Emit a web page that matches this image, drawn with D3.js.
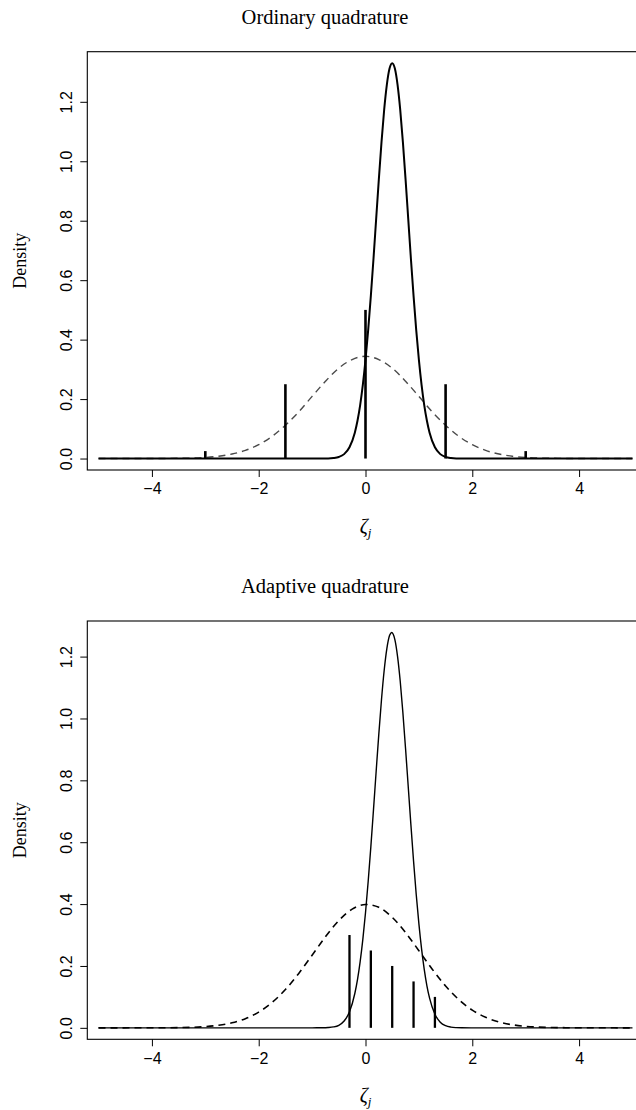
<!DOCTYPE html>
<html>
<head>
<meta charset="utf-8">
<script src="https://cdn.jsdelivr.net/npm/d3@7"></script>
<style>
  body { margin: 0; background: #fff; }
  svg { display: block; }
</style>
</head>
<body>
<script>
  // values
  const xTicks = [-4, -2, 0, 2, 4];
  const yTicks = [0, 0.2, 0.4, 0.6, 0.8, 1.0, 1.2];
  const yTickLabels = ['0.0', '0.2', '0.4', '0.6', '0.8', '1.0', '1.2'];

  // ordinary quadrature
  const ordSolidX = [-5, -1, -0.7, -0.6, -0.5, -0.4, -0.3, -0.2, -0.15, -0.1, -0.05, 0, 0.05, 0.1, 0.15, 0.2, 0.25, 0.3, 0.35, 0.4, 0.45, 0.5,
    0.55, 0.6, 0.65, 0.7, 0.75, 0.8, 0.85, 0.9, 0.95, 1.0, 1.05, 1.1, 1.15, 1.2, 1.3, 1.4, 1.5, 1.6, 1.7, 2, 5];
  const ordSolidY = [0, 0, 0.0004, 0.0016, 0.0051, 0.0148, 0.038, 0.087, 0.127, 0.180, 0.248, 0.332, 0.432, 0.547, 0.673, 0.807, 0.940, 1.065, 1.174, 1.258, 1.312, 1.33,
    1.312, 1.258, 1.174, 1.065, 0.940, 0.807, 0.673, 0.547, 0.432, 0.332, 0.248, 0.180, 0.127, 0.087, 0.038, 0.0148, 0.0051, 0.0016, 0.0004, 0, 0];
  const ordDashX = [-5, -4, -3.5, -3, -2.75, -2.5, -2.25, -2, -1.75, -1.5, -1.25, -1, -0.75, -0.5, -0.25, 0,
    0.25, 0.5, 0.75, 1, 1.25, 1.5, 1.75, 2, 2.25, 2.5, 2.75, 3, 3.5, 4, 5];
  const ordDashY = [0, 0.0001, 0.0008, 0.0038, 0.0078, 0.0151, 0.0274, 0.0466, 0.0744, 0.112, 0.157, 0.209, 0.260, 0.304, 0.333, 0.344,
    0.333, 0.304, 0.260, 0.209, 0.157, 0.112, 0.0744, 0.0466, 0.0274, 0.0151, 0.0078, 0.0038, 0.0008, 0.0001, 0];
  const ordNodes = [-3, -1.5, 0, 1.5, 3];
  const ordWeights = [0.025, 0.25, 0.5, 0.25, 0.025];

  // adaptive quadrature
  const adaSolidX = [-5, -1, -0.8, -0.7, -0.6, -0.5, -0.4, -0.3, -0.2, -0.15, -0.1, -0.05, 0, 0.05, 0.1, 0.15, 0.2, 0.25, 0.3, 0.35, 0.4, 0.45, 0.49,
    0.55, 0.6, 0.65, 0.7, 0.75, 0.8, 0.85, 0.9, 0.95, 1.0, 1.05, 1.1, 1.15, 1.2, 1.3, 1.4, 1.5, 1.6, 1.7, 1.8, 2, 5];
  const adaSolidY = [0, 0, 0.0002, 0.0009, 0.0029, 0.0083, 0.0219, 0.0518, 0.111, 0.156, 0.214, 0.286, 0.372, 0.473, 0.585, 0.706, 0.830, 0.951, 1.062, 1.156, 1.226, 1.268, 1.278,
    1.255, 1.201, 1.121, 1.019, 0.903, 0.780, 0.657, 0.539, 0.431, 0.336, 0.255, 0.189, 0.136, 0.096, 0.044, 0.0182, 0.0068, 0.0023, 0.0007, 0.0002, 0, 0];
  const adaDashX = [-5, -4, -3.5, -3, -2.75, -2.5, -2.25, -2, -1.75, -1.5, -1.25, -1, -0.75, -0.5, -0.25, 0,
    0.25, 0.5, 0.75, 1, 1.25, 1.5, 1.75, 2, 2.25, 2.5, 2.75, 3, 3.5, 4, 5];
  const adaDashY = [0, 0.0001, 0.0008, 0.0040, 0.0084, 0.0163, 0.0296, 0.0508, 0.0818, 0.1238, 0.1759, 0.2347, 0.2943, 0.3467, 0.3837, 0.3988,
    0.3895, 0.3573, 0.3079, 0.2493, 0.1896, 0.1354, 0.0909, 0.0573, 0.0339, 0.0189, 0.0099, 0.0048, 0.0010, 0.0002, 0];
  const adaNodes = [-0.3, 0.1, 0.5, 0.9, 1.3];
  const adaWeights = [0.3, 0.25, 0.2, 0.15, 0.1];

  const width = 636;
  const height = 1110;
  const left = 87.3;
  const plotW = 556.4;
  const plotH = 418.3;

  const svg = d3.select('body')
          .append('svg')
          .attr('width', width)
          .attr('height', height);

  const x = d3.scaleLinear().domain([-5.21, 5.21]).range([left, left + plotW]);

  function drawPanel(p) {
    const yMax = d3.max(p.solidY);
    const pad = 0.029 * yMax;
    const y = d3.scaleLinear()
            .domain([-pad, yMax + pad])
            .range([p.top + plotH, p.top]);
    const g = svg.append('g');

    // title
    g.append('text')
            .attr('x', 325)
            .attr('y', p.top - 28)
            .attr('text-anchor', 'middle')
            .attr('font-family', '"Liberation Serif", serif')
            .attr('font-size', '20.5px')
            .text(p.title);

    // box
    g.append('rect')
            .attr('x', left)
            .attr('y', p.top)
            .attr('width', plotW)
            .attr('height', plotH)
            .attr('fill', 'none')
            .attr('stroke', '#000')
            .attr('stroke-width', 1.1);

    // x axis
    const xAxis = d3.axisBottom(x)
            .tickValues(xTicks)
            .tickSizeOuter(0)
            .tickSize(7)
            .tickPadding(6)
            .tickFormat(d => d < 0 ? '\u2212' + Math.abs(d) : d);
    const gx = g.append('g')
            .attr('transform', `translate(0,${p.top + plotH})`)
            .call(xAxis);
    gx.select('.domain').remove();
    gx.selectAll('line').attr('stroke', '#000');
    gx.selectAll('text')
            .attr('font-family', '"Liberation Sans", Arial, sans-serif')
            .attr('font-size', '16px')
            .attr('fill', '#000');

    // y axis
    const yAxis = d3.axisLeft(y)
            .tickValues(yTicks)
            .tickSizeOuter(0)
            .tickSize(7)
            .tickFormat((d, i) => yTickLabels[i]);
    const gy = g.append('g')
            .attr('transform', `translate(${left},0)`)
            .call(yAxis);
    gy.select('.domain').remove();
    gy.selectAll('line').attr('stroke', '#000');
    gy.selectAll('text')
            .attr('font-family', '"Liberation Sans", Arial, sans-serif')
            .attr('font-size', '16px')
            .attr('fill', '#000')
            .attr('x', null)
            .attr('dy', null)
            .attr('text-anchor', 'middle')
            .attr('transform', 'translate(-15,0) rotate(-90)');

    // axis titles
    g.append('text')
            .attr('transform', `translate(26,${p.top + plotH / 2}) rotate(-90)`)
            .attr('text-anchor', 'middle')
            .attr('font-family', '"Liberation Serif", serif')
            .attr('font-size', '18px')
            .text('Density');

    const xl = g.append('text')
            .attr('x', x(0))
            .attr('y', p.top + plotH + 63)
            .attr('text-anchor', 'middle')
            .attr('font-family', '"Liberation Serif", serif')
            .attr('font-style', 'italic')
            .attr('font-size', '20px');
    xl.append('tspan').text('ζ');
    xl.append('tspan').attr('font-size', '13px').attr('dy', 4).text('j');

    const line = d3.line()
            .x(d => x(d[0]))
            .y(d => y(d[1]))
            .curve(d3.curveMonotoneX);

    // dashed prior curve
    g.append('path')
            .datum(d3.zip(p.dashX, p.dashY))
            .attr('d', line)
            .attr('fill', 'none')
            .attr('stroke', p.dashColor)
            .attr('stroke-width', p.dashWidth)
            .attr('stroke-dasharray', '7,5');

    // solid curve
    g.append('path')
            .datum(d3.zip(p.solidX, p.solidY))
            .attr('d', line)
            .attr('fill', 'none')
            .attr('stroke', '#000')
            .attr('stroke-width', p.solidWidth);

    // quadrature weights
    g.selectAll('line.spike')
            .data(d3.zip(p.nodes, p.weights))
            .enter()
            .append('line')
            .attr('class', 'spike')
            .attr('x1', d => x(d[0]))
            .attr('x2', d => x(d[0]))
            .attr('y1', y(0))
            .attr('y2', d => y(d[1]))
            .attr('stroke', '#000')
            .attr('stroke-width', p.spikeWidth);
  }

  drawPanel({
    top: 51.7, title: 'Ordinary quadrature',
    solidX: ordSolidX, solidY: ordSolidY, dashX: ordDashX, dashY: ordDashY,
    nodes: ordNodes, weights: ordWeights,
    solidWidth: 2, dashWidth: 1.4, dashColor: '#4a4a4a', spikeWidth: 2.6
  });

  drawPanel({
    top: 621, title: 'Adaptive quadrature',
    solidX: adaSolidX, solidY: adaSolidY, dashX: adaDashX, dashY: adaDashY,
    nodes: adaNodes, weights: adaWeights,
    solidWidth: 1.4, dashWidth: 1.6, dashColor: '#000', spikeWidth: 2.3
  });
</script>
</body>
</html>
